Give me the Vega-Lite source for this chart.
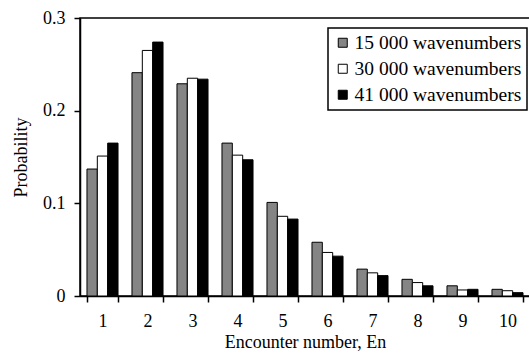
{
  "$schema": "https://vega.github.io/schema/vega-lite/v6.json",
  "width": 450,
  "height": 278,
  "autosize": {"type": "none"},
  "padding": {"left": 80, "top": 18, "right": 0, "bottom": 58},
  "background": "white",
  "config": {
    "font": "Liberation Serif",
    "view": {"stroke": "black", "strokeWidth": 1.5},
    "legend": {
      "labelFont": "'Liberation Serif', 'Times New Roman', serif",
      "labelFontSize": 19.5,
      "labelLimit": 300,
      "labelColor": "black",
      "strokeColor": "black",
      "strokeWidth": 1.5,
      "fillColor": "white",
      "padding": 5
    }
  },
  "data": {
    "values": [
      {"En": 1, "series": "15 000 wavenumbers", "p": 0.137},
      {"En": 1, "series": "30 000 wavenumbers", "p": 0.151},
      {"En": 1, "series": "41 000 wavenumbers", "p": 0.165},
      {"En": 2, "series": "15 000 wavenumbers", "p": 0.241},
      {"En": 2, "series": "30 000 wavenumbers", "p": 0.265},
      {"En": 2, "series": "41 000 wavenumbers", "p": 0.274},
      {"En": 3, "series": "15 000 wavenumbers", "p": 0.229},
      {"En": 3, "series": "30 000 wavenumbers", "p": 0.235},
      {"En": 3, "series": "41 000 wavenumbers", "p": 0.234},
      {"En": 4, "series": "15 000 wavenumbers", "p": 0.165},
      {"En": 4, "series": "30 000 wavenumbers", "p": 0.152},
      {"En": 4, "series": "41 000 wavenumbers", "p": 0.147},
      {"En": 5, "series": "15 000 wavenumbers", "p": 0.101},
      {"En": 5, "series": "30 000 wavenumbers", "p": 0.086},
      {"En": 5, "series": "41 000 wavenumbers", "p": 0.083},
      {"En": 6, "series": "15 000 wavenumbers", "p": 0.058},
      {"En": 6, "series": "30 000 wavenumbers", "p": 0.047},
      {"En": 6, "series": "41 000 wavenumbers", "p": 0.043},
      {"En": 7, "series": "15 000 wavenumbers", "p": 0.029},
      {"En": 7, "series": "30 000 wavenumbers", "p": 0.025},
      {"En": 7, "series": "41 000 wavenumbers", "p": 0.022},
      {"En": 8, "series": "15 000 wavenumbers", "p": 0.018},
      {"En": 8, "series": "30 000 wavenumbers", "p": 0.0145},
      {"En": 8, "series": "41 000 wavenumbers", "p": 0.011},
      {"En": 9, "series": "15 000 wavenumbers", "p": 0.011},
      {"En": 9, "series": "30 000 wavenumbers", "p": 0.0065},
      {"En": 9, "series": "41 000 wavenumbers", "p": 0.0072},
      {"En": 10, "series": "15 000 wavenumbers", "p": 0.0072},
      {"En": 10, "series": "30 000 wavenumbers", "p": 0.0057},
      {"En": 10, "series": "41 000 wavenumbers", "p": 0.0036}
    ]
  },
  "mark": {"type": "bar", "stroke": "black", "strokeWidth": 1},
  "encoding": {
    "x": {
      "field": "En",
      "type": "ordinal",
      "scale": {"paddingInner": 0.31, "paddingOuter": 0.155},
      "axis": {
        "title": "Encounter number, En",
        "labelAngle": 0,
        "tickBand": "extent",
        "domainColor": "black",
        "domainWidth": 1.5,
        "tickColor": "black",
        "tickWidth": 1.5,
        "tickSize": 6,
        "labelFont": "Liberation Serif",
        "labelFontSize": 18,
        "labelColor": "black",
        "labelPadding": 10,
        "titleFont": "Liberation Serif",
        "titleFontSize": 18,
        "titleFontWeight": "normal",
        "titleColor": "black",
        "titlePadding": 3
      }
    },
    "xOffset": {"field": "series", "type": "nominal"},
    "y": {
      "field": "p",
      "type": "quantitative",
      "scale": {"domain": [0, 0.3]},
      "axis": {
        "title": "Probability",
        "values": [0, 0.1, 0.2, 0.3],
        "format": "~g",
        "grid": false,
        "domainColor": "black",
        "domainWidth": 1.5,
        "tickColor": "black",
        "tickWidth": 1.5,
        "tickSize": 6,
        "labelFont": "Liberation Serif",
        "labelFontSize": 18,
        "labelColor": "black",
        "labelPadding": 9,
        "titleFont": "Liberation Serif",
        "titleFontSize": 18,
        "titleFontWeight": "normal",
        "titleColor": "black",
        "titlePadding": 12
      }
    },
    "fill": {
      "field": "series",
      "type": "nominal",
      "scale": {"range": ["#858585", "white", "black"]},
      "legend": {
        "title": null,
        "orient": "none",
        "legendX": 248,
        "legendY": 10,
        "symbolType": "square",
        "symbolSize": 81,
        "symbolStrokeColor": "black",
        "symbolStrokeWidth": 1,
        "symbolOpacity": 1,
        "labelOffset": 2,
        "rowPadding": 5
      }
    }
  }
}
